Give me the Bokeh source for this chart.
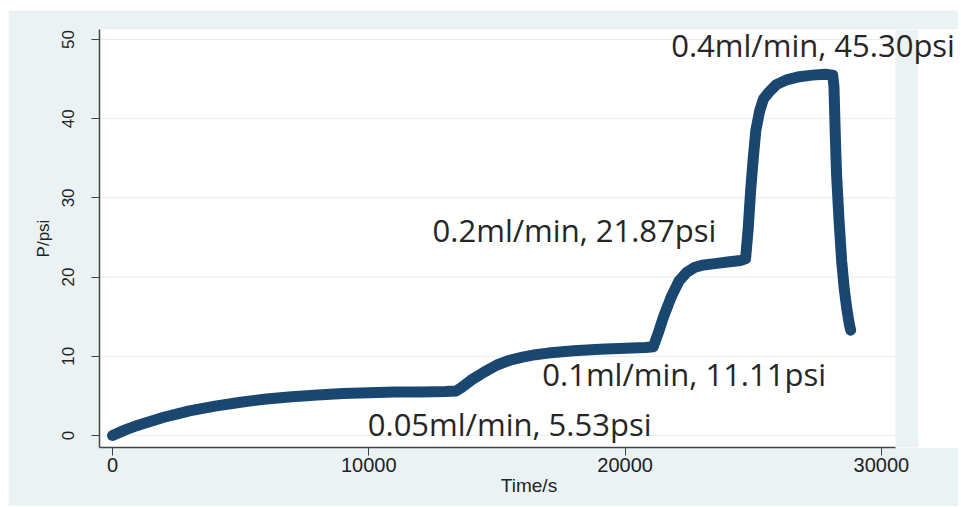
from bokeh.plotting import figure
from bokeh.models import Range1d, FixedTicker, Label, BoxAnnotation
from bokeh.embed import file_html
from bokeh.resources import INLINE

# ---- data ----
time_s = [0, 500, 1000, 1500, 2000, 2500, 3000, 4000, 5000, 6000, 7000, 8000, 9000,
          10000, 11000, 12000, 13000, 13400,
          13600, 14000, 14500, 15000, 15500, 16000, 16500, 17000, 18000, 19000, 20000,
          20800, 21100,
          21300, 21500, 21800, 22100, 22400, 22700, 23000, 23500, 24000, 24500, 24700,
          24800, 24900, 25000, 25100, 25250, 25400, 25600, 25900, 26300, 26800, 27300,
          27800, 28100,
          28150, 28200, 28250, 28350, 28450, 28550, 28650, 28750, 28800]
pressure_psi = [0, 0.7, 1.3, 1.8, 2.3, 2.7, 3.1, 3.7, 4.2, 4.6, 4.9, 5.1, 5.3,
                5.4, 5.5, 5.5, 5.55, 5.6,
                6.0, 7.0, 8.0, 8.9, 9.5, 9.9, 10.2, 10.4, 10.7, 10.9, 11.0,
                11.1, 11.2,
                13.0, 15.0, 17.5, 19.5, 20.6, 21.2, 21.5, 21.7, 21.9, 22.1, 22.3,
                26.0, 31.0, 35.0, 38.5, 41.0, 42.5, 43.3, 44.3, 44.9, 45.3, 45.5,
                45.6, 45.5,
                44.0, 38.0, 33.0, 27.0, 22.0, 18.5, 16.0, 14.0, 13.3]

x_ticks = [0, 10000, 20000, 30000]
y_ticks = [0, 10, 20, 30, 40, 50]

ann_text = ["0.05ml/min, 5.53psi", "0.1ml/min, 11.11psi",
            "0.2ml/min, 21.87psi", "0.4ml/min, 45.30psi"]
ann_x = [9960, 16770, 12490, 21800]
ann_y = [1.5, 7.7, 25.9, 49.3]

BG = "#EAF2F4"
LINE = "#1a476f"

# axis geometry
X_MIN, X_PLOT_END, X_PANEL_END, X_MAX = -507, 30550, 31447, 33008
Y_MIN, Y_MAX = -1.52, 51.26

p = figure(width=950, height=496, output_backend="svg", toolbar_location=None,
           x_range=Range1d(X_MIN, X_MAX), y_range=Range1d(Y_MIN, Y_MAX),
           min_border_left=91, min_border_right=0, min_border_top=19,
           min_border_bottom=59)
p.styles = {"margin-left": "8px", "margin-top": "10px"}
p.background_fill_color = "white"
p.border_fill_color = BG
p.outline_line_color = None

# grey strip right of the plot area, then white outside the panel
p.add_layout(BoxAnnotation(left=X_PLOT_END, right=X_PANEL_END, fill_color=BG,
                           fill_alpha=1, line_color=None, level="underlay"))
p.add_layout(BoxAnnotation(left=X_PANEL_END, fill_color="white",
                           fill_alpha=1, line_color=None, level="underlay"))

# horizontal grid lines limited to the plot area
p.segment(x0=X_MIN, x1=X_PLOT_END, y0=y_ticks, y1=y_ticks,
          line_color="#E4EEF1", line_width=1)

p.line(time_s, pressure_psi, line_width=11, color=LINE,
       line_cap="round", line_join="round")

p.xgrid.grid_line_color = None
p.ygrid.grid_line_color = None

p.xaxis.ticker = FixedTicker(ticks=x_ticks)
p.yaxis.ticker = FixedTicker(ticks=y_ticks)
p.xaxis.bounds = (X_MIN, X_PLOT_END)
for ax in (p.xaxis[0], p.yaxis[0]):
    ax.axis_line_color = "#444444"
    ax.axis_line_width = 1.5
    ax.major_tick_line_color = "#444444"
    ax.major_tick_out = 8
    ax.major_tick_in = 0
    ax.minor_tick_line_color = None
    ax.major_label_text_font = "Liberation Sans"
    ax.major_label_text_color = "#222222"
    ax.axis_label_text_font = "Liberation Sans"
    ax.axis_label_text_font_style = "normal"
    ax.axis_label_text_color = "#222222"

p.xaxis.axis_label = "Time/s"
p.yaxis.axis_label = "P/psi"
p.xaxis.major_label_text_font_size = "20px"
p.yaxis.major_label_text_font_size = "17px"
p.xaxis.axis_label_text_font_size = "19px"
p.yaxis.axis_label_text_font_size = "17px"
p.yaxis.major_label_orientation = "vertical"
p.xaxis.major_label_standoff = 2
p.yaxis.major_label_standoff = 17
p.xaxis.axis_label_standoff = 0
p.yaxis.axis_label_standoff = 7

for t, xx, yy in zip(ann_text, ann_x, ann_y):
    p.add_layout(Label(x=xx, y=yy, text=t, text_align="left",
                       text_baseline="middle", text_font="Open Sans",
                       text_font_size="31px", text_color="#262626"))

open("out.html", "w").write(file_html(p, INLINE))
